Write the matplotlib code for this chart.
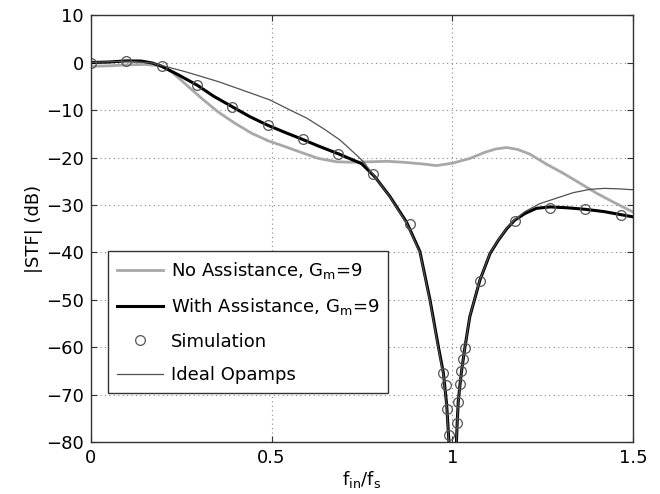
import numpy as np
import matplotlib.pyplot as plt

plt.rcParams['font.family'] = ['DejaVu Sans']
plt.rcParams['mathtext.fontset'] = 'dejavusans'

# |STF| without opamp assistance
no_assist_f = [0, 0.05, 0.10, 0.15, 0.195, 0.223, 0.26, 0.306, 0.352, 0.399, 0.445,
               0.491, 0.537, 0.588, 0.63, 0.68, 0.72, 0.772, 0.82, 0.864, 0.91,
               0.956, 1.0, 1.048, 1.09, 1.12, 1.15, 1.18, 1.214, 1.26, 1.306,
               1.35, 1.398, 1.45, 1.5]
no_assist_db = [-0.8, -0.7, -0.5, -0.4, -0.7, -1.9, -4.4, -7.5, -10.4, -12.8, -14.9,
                -16.5, -17.7, -19.1, -20.2, -20.9, -21.0, -20.9, -20.8, -21.0, -21.3,
                -21.7, -21.2, -20.2, -18.9, -18.2, -17.9, -18.3, -19.3, -21.4, -23.3,
                -25.3, -27.5, -29.6, -31.5]

# |STF| with assistance
assist_f = [0, 0.05, 0.098, 0.14, 0.17, 0.196, 0.24, 0.295, 0.34, 0.391, 0.44,
            0.489, 0.54, 0.586, 0.63, 0.684, 0.749, 0.786, 0.827, 0.873, 0.91,
            0.938, 0.961, 0.975, 0.984, 0.99, 1.0, 1.011, 1.013, 1.016, 1.021,
            1.026, 1.034, 1.048, 1.076, 1.104, 1.127, 1.15, 1.172, 1.2, 1.232,
            1.27, 1.32, 1.366, 1.42, 1.463, 1.5]
assist_db = [0, 0.1, 0.35, 0.3, -0.1, -0.8, -2.5, -4.8, -7.1, -9.3, -11.4,
             -13.2, -14.8, -16.2, -17.6, -19.2, -21.3, -24.1, -28.2, -33.6, -39.8,
             -50.0, -59.8, -65.4, -72.0, -79.5, -100.0, -80.0, -76.0, -71.4, -67.7,
             -64.5, -60.2, -53.5, -45.8, -40.2, -37.4, -35.0, -33.2, -31.8, -30.7,
             -30.4, -30.6, -30.9, -31.4, -32.0, -32.5]

# ideal opamps
ideal_f = [0, 0.1, 0.17, 0.2, 0.26, 0.352, 0.445, 0.496, 0.551, 0.597, 0.643,
           0.689, 0.735, 0.754, 0.77, 0.786, 0.827, 0.873, 0.91, 0.938, 0.961,
           0.975, 0.984, 0.99, 1.0, 1.011, 1.013, 1.016, 1.021, 1.026, 1.034,
           1.048, 1.076, 1.104, 1.127, 1.15, 1.172, 1.2, 1.242, 1.27, 1.31,
           1.334, 1.38, 1.42, 1.46, 1.5]
ideal_db = [0, 0.3, -0.1, -0.7, -1.9, -4.0, -6.5, -7.9, -10.0, -11.7, -13.9,
            -16.3, -19.5, -20.9, -22.5, -24.1, -28.3, -33.8, -40.0, -50.3, -60.2,
            -65.8, -72.3, -80.0, -100.0, -80.0, -76.0, -71.4, -67.7, -64.5, -60.2,
            -53.4, -45.7, -40.1, -37.3, -34.9, -33.1, -31.4, -29.7, -29.0, -28.0,
            -27.4, -26.7, -26.5, -26.6, -26.8]

# simulation points
sim_f = [0, 0.098, 0.196, 0.295, 0.391, 0.489, 0.586, 0.684, 0.781, 0.882,
         0.975, 0.981, 0.986, 0.99, 1.013, 1.016, 1.021, 1.024, 1.03, 1.034,
         1.076, 1.173, 1.27, 1.366, 1.466]
sim_db = [0, 0.4, -0.7, -4.7, -9.3, -13.2, -16.2, -19.3, -23.5, -34.1,
          -65.4, -67.9, -73.0, -78.5, -76.0, -71.4, -67.7, -64.9, -62.4, -60.2,
          -45.9, -33.3, -30.6, -30.9, -32.1]

fig = plt.figure(figsize=(6.6, 4.94), dpi=100)
ax = fig.add_axes([0.1374, 0.1043, 0.8222, 0.8653])

ax.plot(no_assist_f, no_assist_db, color='#a8a8a8', lw=2.0,
        label=r'No Assistance, G$_{\rm m}$=9')
ax.plot(assist_f, assist_db, color='black', lw=2.2,
        label=r'With Assistance, G$_{\rm m}$=9')
ax.plot(sim_f, sim_db, 'o', mfc='none', mec='#555555', ms=7, mew=0.9,
        label='Simulation')
ax.plot(ideal_f, ideal_db, color='#505050', lw=0.9, label='Ideal Opamps')

ax.set_xlim(0, 1.5)
ax.set_ylim(-80, 10)
ax.set_xticks([0, 0.5, 1, 1.5])
ax.set_xticklabels(['0', '0.5', '1', '1.5'])
ax.set_yticks(np.arange(-80, 11, 10))
ax.grid(True, linestyle=(0, (1, 3)), color='#888888', lw=0.8)
ax.tick_params(direction='in', top=True, right=True, labelsize=13,
               length=4, color='#333333', pad=5)
for s in ax.spines.values():
    s.set_color('#333333')
    s.set_linewidth(1.0)

ax.set_xlabel(r'f$_{\rm in}$/f$_{\rm s}$', fontsize=13, labelpad=1)
ax.set_ylabel('|STF| (dB)', fontsize=13, labelpad=2)

leg = ax.legend(loc='upper left', bbox_to_anchor=(0.031, 0.448), fontsize=13,
                handlelength=2.6, labelspacing=0.85, borderpad=0.5,
                handletextpad=0.4, fancybox=False, framealpha=1,
                edgecolor='#333333', borderaxespad=0)
leg.get_frame().set_linewidth(1.0)

fig.savefig('out.png', dpi=100)
